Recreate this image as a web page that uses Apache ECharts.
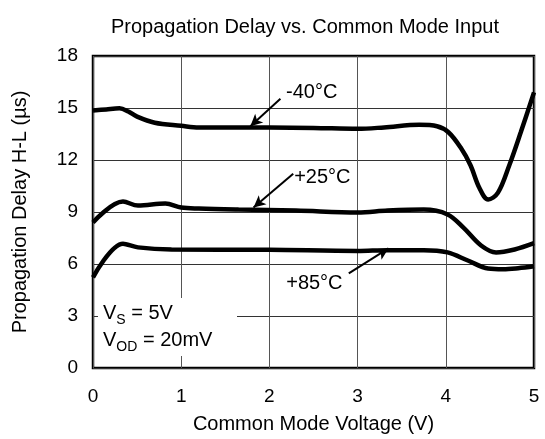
<!DOCTYPE html>
<html>
<head>
<meta charset="utf-8">
<script src="https://cdn.jsdelivr.net/npm/echarts@6/dist/echarts.min.js"></script>
<style>html,body{margin:0;padding:0;background:#fff}#c{width:545px;height:439px}</style>
</head>
<body>
<div id="c"></div>
<script>
const titleText = 'Propagation Delay vs. Common Mode Input';
const xName = 'Common Mode Voltage (V)';
const yName = 'Propagation Delay H-L (µs)';
const xTicks = [0, 1, 2, 3, 4, 5];
const yTicks = [0, 3, 6, 9, 12, 15, 18];

const m40 = [[0,14.85],[0.15,14.92],[0.3,14.98],[0.4,14.8],[0.5,14.5],[0.7,14.15],[1.0,13.97],[1.2,13.87],[2.0,13.87],[2.5,13.85],[3.0,13.8],[3.3,13.88],[3.7,14.03],[3.9,13.95],[4.03,13.6],[4.17,12.7],[4.28,11.7],[4.38,10.4],[4.48,9.72],[4.59,10.1],[4.72,11.7],[4.85,13.6],[5.0,15.9]];
const p25 = [[0,8.4],[0.34,9.6],[0.51,9.37],[0.82,9.49],[1.0,9.26],[1.2,9.2],[1.65,9.14],[2.3,9.08],[3.0,8.97],[3.34,9.08],[3.75,9.14],[4.02,8.86],[4.2,8.1],[4.4,7.07],[4.57,6.67],[4.78,6.84],[5.0,7.2]];
const p85 = [[0,5.23],[0.34,7.17],[0.51,6.96],[0.89,6.84],[2.0,6.82],[3.0,6.75],[3.34,6.8],[3.75,6.8],[4.02,6.67],[4.25,6.2],[4.48,5.74],[4.65,5.7],[4.82,5.76],[5.0,5.87]];

const labels = [
  {name: '-40°C', text: [2.48, 15.87], tail: [2.125, 15.53], head: [1.784, 13.95]},
  {name: '+25°C', text: [2.6, 10.98], tail: [2.27, 11.21], head: [1.82, 9.26]},
  {name: '+85°C', text: [2.51, 4.89], tail: [2.9, 5.46], head: [3.35, 6.9]}
];

const FONT = 'Liberation Sans, Arial, sans-serif';
const chart = echarts.init(document.getElementById('c'));

function mkSeries(data, lab) {
  return {
    type: 'line', data: data, smooth: 0.35, showSymbol: false,
    lineStyle: {color: '#000', width: 4.5}, z: 5,
    markLine: {
      silent: true, symbol: ['none', 'arrow'], symbolSize: [9, 12],
      lineStyle: {color: '#000', width: 2, type: 'solid'}, label: {show: false},
      data: [[{coord: lab.tail}, {coord: lab.head}]]
    },
    markPoint: {
      silent: true, symbol: 'circle', symbolSize: 0,
      label: {show: true, formatter: lab.name, color: '#000', fontSize: 20, fontFamily: FONT, position: 'inside'},
      data: [{coord: lab.text}]
    }
  };
}

chart.setOption({
  backgroundColor: '#fff',
  animation: false,
  title: {text: titleText, left: 106, top: 12, textStyle: {fontSize: 20, fontWeight: 'normal', color: '#000', fontFamily: FONT}},
  grid: {left: 93, right: 11, top: 56, bottom: 71, show: true, borderColor: '#000', borderWidth: 2.5},
  xAxis: {
    type: 'value', min: xTicks[0], max: xTicks[xTicks.length - 1], interval: 1,
    name: xName, nameLocation: 'middle', nameGap: 46,
    nameTextStyle: {fontSize: 20, color: '#000', fontFamily: FONT},
    axisLine: {show: false}, axisTick: {show: false},
    axisLabel: {fontSize: 19, color: '#000', margin: 19, fontFamily: FONT},
    splitLine: {show: true, lineStyle: {color: '#555', width: 1}}
  },
  yAxis: {
    type: 'value', min: yTicks[0], max: yTicks[yTicks.length - 1], interval: 3,
    name: yName, nameLocation: 'middle', nameGap: 63,
    nameTextStyle: {fontSize: 20, color: '#000', fontFamily: FONT},
    axisLine: {show: false}, axisTick: {show: false},
    axisLabel: {fontSize: 19, color: '#000', margin: 15, fontFamily: FONT},
    splitLine: {show: true, lineStyle: {color: '#333', width: 1}}
  },
  graphic: [{
    type: 'text', left: 98, top: 298, z: 100,
    style: {
      rich: {
        m: {fontSize: 20, fontFamily: FONT, fill: '#000', lineHeight: 27},
        s: {fontSize: 14, fontFamily: FONT, fill: '#000', lineHeight: 27, verticalAlign: 'bottom'}
      },
      text: '{m|V}{s|S}{m| = 5V}\n{m|V}{s|OD}{m| = 20mV}',
      backgroundColor: '#fff', padding: [2, 6, 2, 5], width: 128
    }
  }],
  series: [mkSeries(m40, labels[0]), mkSeries(p25, labels[1]), mkSeries(p85, labels[2])]
});
</script>
</body>
</html>
